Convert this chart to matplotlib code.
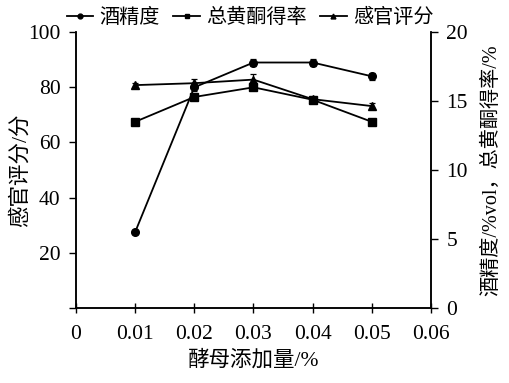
import matplotlib
matplotlib.use('Agg')
import matplotlib.pyplot as plt
from matplotlib.lines import Line2D
import numpy as np

plt.rcParams['font.family'] = ['Liberation Serif', 'Noto Sans CJK SC']
plt.rcParams['font.size'] = 15.5

# data
dose = [0.01, 0.02, 0.03, 0.04, 0.05]
alcohol = [5.5, 16.0, 17.8, 17.8, 16.8]          # right axis, %vol
alcohol_err = [0.15, 0.3, 0.25, 0.25, 0.25]
flavone = [13.5, 15.3, 16.0, 15.1, 13.5]          # right axis, %
flavone_err = [0.1, 0.15, 0.15, 0.15, 0.1]
sensory = [80.8, 81.5, 82.8, 75.7, 73.2]          # left axis, points
sensory_err = [0.8, 1.5, 2.2, 0.8, 1.2]
names = ['酒精度', '总黄酮得率', '感官评分']
marks = ['o', 's', '^']

fig = plt.figure(figsize=(5.1, 3.83), dpi=100)
ax = fig.add_axes([0.149, 0.196, 0.696, 0.72])
ax2 = ax.twinx()

kw = dict(color='black', lw=1.3, capsize=2, elinewidth=0.9, capthick=0.9, ms=5.5)
ax2.errorbar(dose, alcohol, yerr=alcohol_err, marker=marks[0], **kw)
ax2.errorbar(dose, flavone, yerr=flavone_err, marker=marks[1], **kw)
ax.errorbar(dose, sensory, yerr=sensory_err, marker=marks[2], **kw)

ax.set_xlim(0, 0.06)
ax.set_ylim(0, 100)
ax2.set_ylim(0, 20)
ax.set_xticks(np.arange(0, 0.061, 0.01))
ax.set_xticklabels(['0', '0.01', '0.02', '0.03', '0.04', '0.05', '0.06'])
ax.set_yticks([0, 20, 40, 60, 80, 100])
ax.set_yticklabels(['', '20', '40', '60', '80', '100'])
ax2.set_yticks([0, 5, 10, 15, 20])

ax.tick_params(axis='x', direction='inout', length=7, width=1, pad=9)
ax.tick_params(axis='y', direction='out', length=5, width=1, pad=6)
ax2.tick_params(axis='y', direction='out', length=5, width=1, pad=6)

for a in (ax, ax2):
    a.spines['top'].set_visible(False)
    for s in a.spines.values():
        s.set_linewidth(1.1)

ax.set_xlabel('酵母添加量/%', labelpad=4)
ax.set_ylabel('感官评分/分')
ax.yaxis.set_label_coords(-0.128, 0.5)
ax2.set_ylabel('酒精度/%vol，总黄酮得率/%', labelpad=10, fontsize=14.5)

handles = [Line2D([], [], color='black', lw=1.3, marker=m, ms=3.5) for m in marks]
fig.legend(handles, names, loc='upper center', bbox_to_anchor=(0.49, 1.025),
           ncol=3, frameon=False, handlelength=1.3, handletextpad=0.3,
           columnspacing=0.7, fontsize=14.5)

fig.savefig('out.png', dpi=100)
